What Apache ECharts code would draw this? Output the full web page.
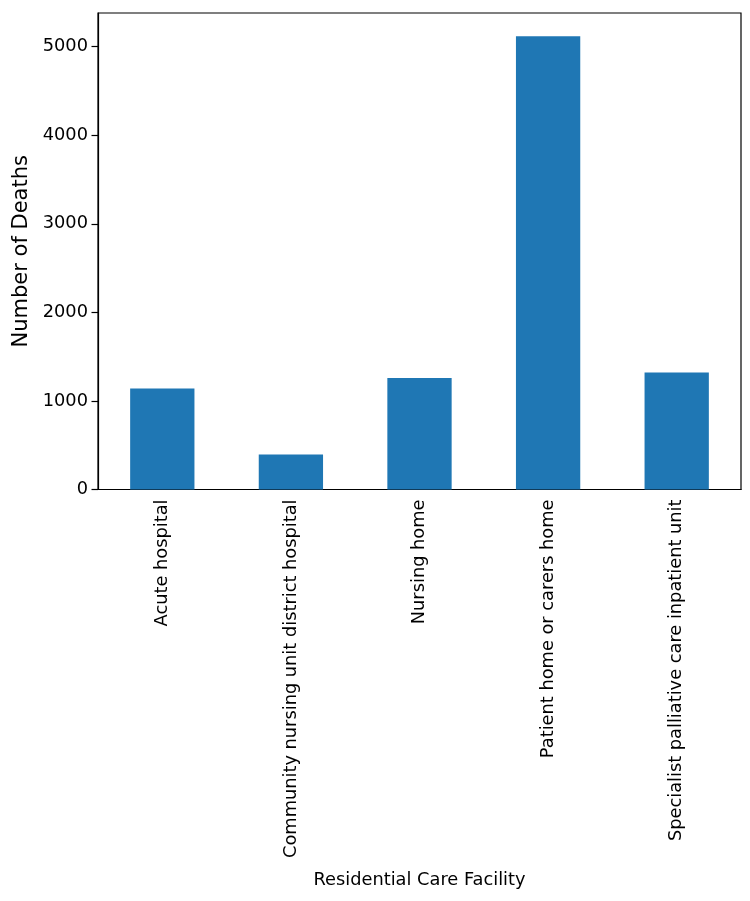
<!DOCTYPE html>
<html><head><meta charset="utf-8">
<script src="https://cdn.jsdelivr.net/npm/echarts@6/dist/echarts.min.js"></script>
<style>html,body{margin:0;padding:0;background:#fff}#c{width:750px;height:901px}</style>
</head><body><div id="c"></div>
<script>
const categories = ["Acute hospital", "Community nursing unit district hospital", "Nursing home", "Patient home or carers home", "Specialist palliative care inpatient unit"];
const deaths = [1140, 395, 1258, 5118, 1322];
const yTicks = [0, 1000, 2000, 3000, 4000, 5000];

const chart = echarts.init(document.getElementById('c'), null, {renderer: 'canvas'});
const font = 'DejaVu Sans';
chart.setOption({
  animation: false,
  grid: {left: 98, right: 9, top: 13, bottom: 411.5, show: true, borderColor: '#000', borderWidth: 1.2, containLabel: false, outerBoundsMode: 'none'},
  xAxis: {
    type: 'category', data: categories,
    name: 'Residential Care Facility', nameLocation: 'middle', nameGap: 382,
    nameTextStyle: {fontFamily: font, fontSize: 17.8, color: '#000'},
    axisLine: {lineStyle: {color: '#000', width: 1.2}},
    axisTick: {alignWithLabel: true, length: 6.5, lineStyle: {color: '#000', width: 1.2}},
    axisLabel: {rotate: 90, fontFamily: font, fontSize: 17.8, color: '#000', margin: 10},
    splitLine: {show: false}
  },
  yAxis: {
    type: 'value', min: 0, max: 5380,
    name: 'Number of Deaths', nameLocation: 'middle', nameGap: 59,
    nameTextStyle: {fontFamily: font, fontSize: 21, color: '#000'},
    axisLine: {show: true, lineStyle: {color: '#000', width: 1.2}},
    axisTick: {show: true, length: 6.5, customValues: yTicks, lineStyle: {color: '#000', width: 1.2}},
    axisLabel: {fontFamily: font, fontSize: 17.8, color: '#000', margin: 10, customValues: yTicks, formatter: v => String(v)},
    splitLine: {show: false}
  },
  series: [{type: 'bar', data: deaths, barWidth: '50%', itemStyle: {color: '#1f77b4'}}]
});
</script></body></html>
